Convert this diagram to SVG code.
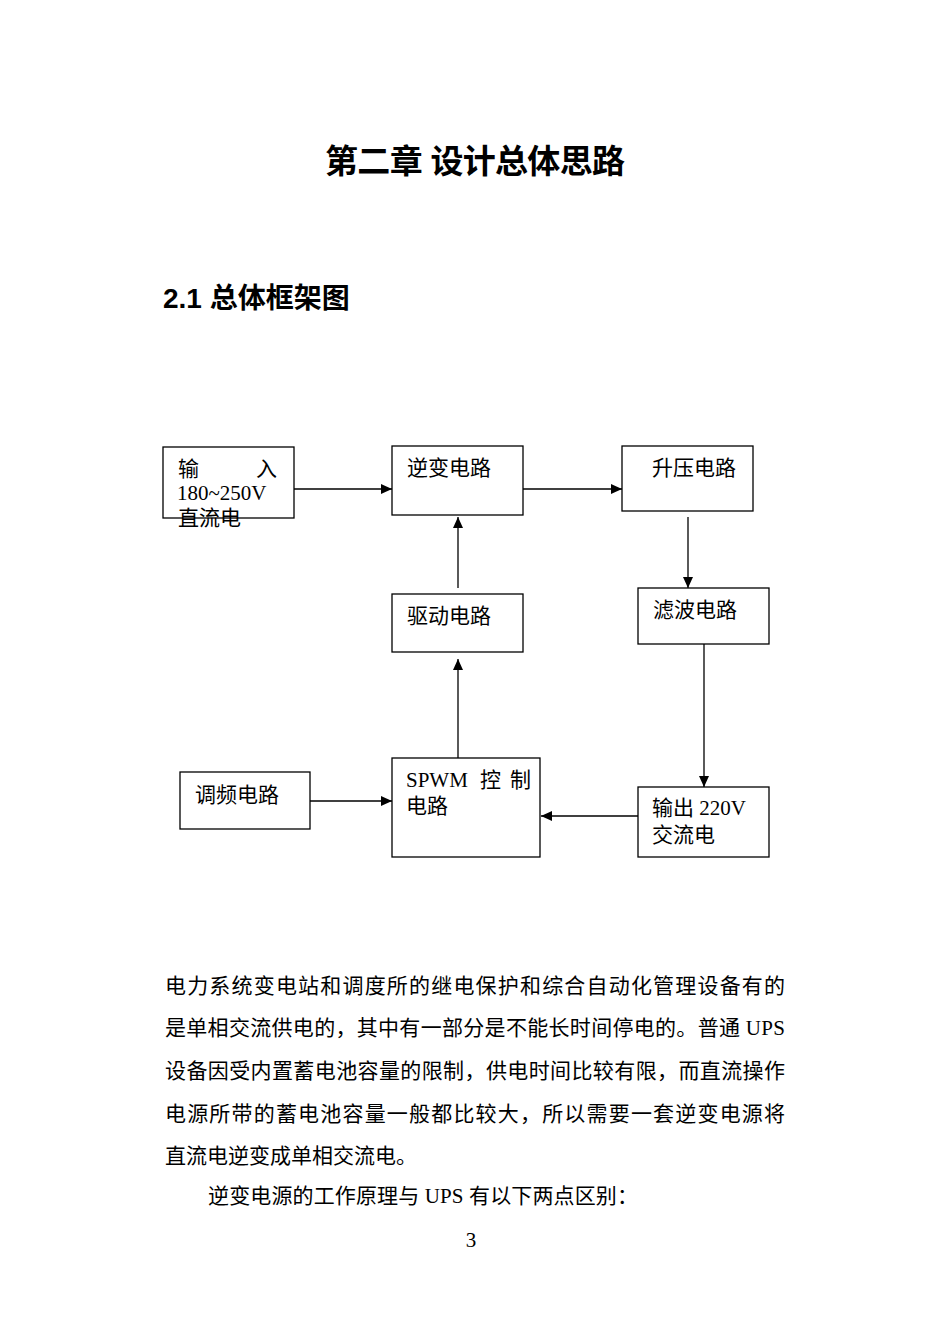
<svg xmlns="http://www.w3.org/2000/svg" width="950" height="1342" viewBox="0 0 950 1342">
<style>
.box{fill:#fff;stroke:#000;stroke-width:1.3}
.lbl{font-family:"Liberation Serif","Noto Sans CJK SC",serif;font-size:21px;fill:#000}
.body{font-family:"Liberation Serif","Noto Sans CJK SC",serif;font-size:21px;fill:#000}
.h{font-family:"Liberation Sans","Noto Sans CJK SC",sans-serif;font-weight:bold;fill:#000}
.conn{stroke:#000;stroke-width:1.3;fill:none;marker-end:url(#ah)}
</style>
<defs>
<marker id="ah" markerUnits="userSpaceOnUse" markerWidth="12" markerHeight="11" refX="11" refY="5" orient="auto">
<path d="M0,0 L11,5 L0,10 z" fill="#000"/>
</marker>
</defs>
<rect width="950" height="1342" fill="#fff"/>
<text class="h" x="475" y="173" font-size="33" text-anchor="middle" textLength="300" lengthAdjust="spacing">第二章 设计总体思路</text>
<text class="h" x="163" y="308" font-size="28">2.1 总体框架图</text>

<g id="connectors">
<line class="conn" x1="294" y1="489" x2="392" y2="489"/>
<line class="conn" x1="523" y1="489" x2="622" y2="489"/>
<line class="conn" x1="688" y1="517" x2="688" y2="588"/>
<line class="conn" x1="458" y1="588" x2="458" y2="517"/>
<line class="conn" x1="458" y1="758" x2="458" y2="659"/>
<line class="conn" x1="704" y1="644" x2="704" y2="787"/>
<line class="conn" x1="310" y1="801" x2="392" y2="801"/>
<line class="conn" x1="638" y1="816" x2="541" y2="816"/>
</g>

<g id="input">
<rect class="box" x="163" y="447" width="131" height="71"/>
<text class="lbl" y="476"><tspan x="178">输</tspan><tspan x="256">入</tspan></text>
<text class="lbl" x="177" y="500">180~250V</text>
<text class="lbl" x="178" y="525">直流电</text>
</g>
<g id="inverter">
<rect class="box" x="392" y="446" width="131" height="69"/>
<text class="lbl" x="407" y="475">逆变电路</text>
</g>
<g id="boost">
<rect class="box" x="622" y="446" width="131" height="65"/>
<text class="lbl" x="652" y="475">升压电路</text>
</g>
<g id="driver">
<rect class="box" x="392" y="594" width="131" height="58"/>
<text class="lbl" x="407" y="623">驱动电路</text>
</g>
<g id="filter">
<rect class="box" x="638" y="588" width="131" height="56"/>
<text class="lbl" x="653" y="617">滤波电路</text>
</g>
<g id="freq">
<rect class="box" x="180" y="772" width="130" height="57"/>
<text class="lbl" x="195" y="802">调频电路</text>
</g>
<g id="spwm">
<rect class="box" x="392" y="758" width="148" height="99"/>
<text class="lbl" y="787"><tspan x="406">SPWM</tspan><tspan x="480">控</tspan><tspan x="510">制</tspan></text>
<text class="lbl" x="406" y="813">电路</text>
</g>
<g id="output">
<rect class="box" x="638" y="787" width="131" height="70"/>
<text class="lbl" x="652" y="815">输出 220V</text>
<text class="lbl" x="652" y="842">交流电</text>
</g>

<g id="paragraph">
<text class="body" x="165" y="993" textLength="620" lengthAdjust="spacing">电力系统变电站和调度所的继电保护和综合自动化管理设备有的</text>
<text class="body" x="165" y="1035" textLength="620" lengthAdjust="spacing">是单相交流供电的，其中有一部分是不能长时间停电的。普通 UPS</text>
<text class="body" x="165" y="1078" textLength="620" lengthAdjust="spacing">设备因受内置蓄电池容量的限制，供电时间比较有限，而直流操作</text>
<text class="body" x="165" y="1121" textLength="620" lengthAdjust="spacing">电源所带的蓄电池容量一般都比较大，所以需要一套逆变电源将</text>
<text class="body" x="165" y="1163">直流电逆变成单相交流电。</text>
<text class="body" x="208" y="1203" textLength="430" lengthAdjust="spacing">逆变电源的工作原理与 UPS 有以下两点区别：</text>
<text class="body" x="471" y="1247" font-size="16" text-anchor="middle">3</text>
</g>
</svg>
